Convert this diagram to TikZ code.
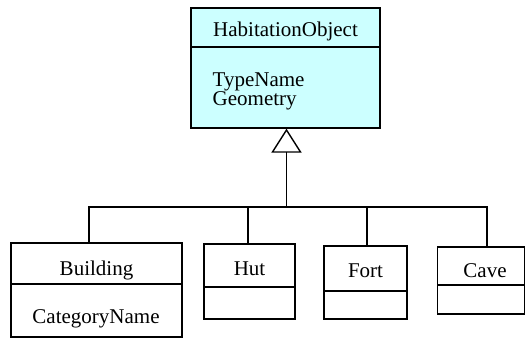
\documentclass[tikz,border=0pt]{standalone}
\usepackage{fontspec}
\setmainfont{LiberationSerif}[Extension=.ttf, UprightFont=*-Regular]
\usepackage{tikz}
\definecolor{habfill}{RGB}{204,255,255}

\begin{document}
\begin{tikzpicture}[x=1pt, y=-1pt, line width=1.4pt,
		classbox/.style={draw, rectangle, inner sep=0pt},
		classname/.style={font=\rmfamily\fontsize{21}{19}\selectfont, inner sep=0pt, anchor=base}]
		%%%%% START %%%%%
		\useasboundingbox (0, 0) rectangle (526, 339);
		
		% parent class
		\node[classbox, fill=habfill, minimum width=189pt, minimum height=120pt] (habitation) at (285.5, 68) {};
		\draw (191, 47) -- (380, 47);
		\node[classname] (habname) at (285.5, 37) {HabitationObject};
		\node[classname, anchor=base west] (typename) at (212, 87) {TypeName};
		\node[classname, anchor=base west] (geometry) at (212, 106) {Geometry};
		
		% child classes
		\node[classbox, minimum width=171pt, minimum height=94pt] (building) at (96.5, 290) {};
		\draw (11, 284) -- (182, 284);
		\node[classname] (buildname) at (96.5, 275) {Building};
		\node[classname] (buildattr) at (96, 323) {CategoryName};
		
		\node[classbox, minimum width=91pt, minimum height=75pt] (hut) at (249.5, 281.5) {};
		\draw (204, 287) -- (295, 287);
		\node[classname] (hutname) at (249.5, 275) {Hut};
		
		\node[classbox, minimum width=83pt, minimum height=73pt] (fort) at (365.5, 282.5) {};
		\draw (324, 291) -- (407, 291);
		\node[classname] (fortname) at (365.5, 277) {Fort};
		
		\node[classbox, minimum width=87pt, minimum height=67pt] (cave) at (481, 280.5) {};
		\draw (437.5, 285) -- (524.5, 285);
		\node[classname] (cavename) at (485, 277) {Cave};
		
		% generalization
		\coordinate (apex) at (286.5, 130);
		\coordinate (tribase) at (286.5, 152);
		\coordinate (trunk) at (286.5, 207);
		\draw[fill=white] (apex) -- ++(-14, 22) -- ++(28, 0) -- cycle;
		\draw (tribase) -- (trunk);
		\draw ([xshift=-7.5pt]building.north) |- (trunk);
		\draw ([xshift=-1.5pt]hut.north) |- (trunk);
		\draw ([xshift=1.5pt]fort.north) |- (trunk);
		\draw ([xshift=6pt]cave.north) |- (trunk);
		%%%%% END %%%%%
	\end{tikzpicture}
\end{document}
